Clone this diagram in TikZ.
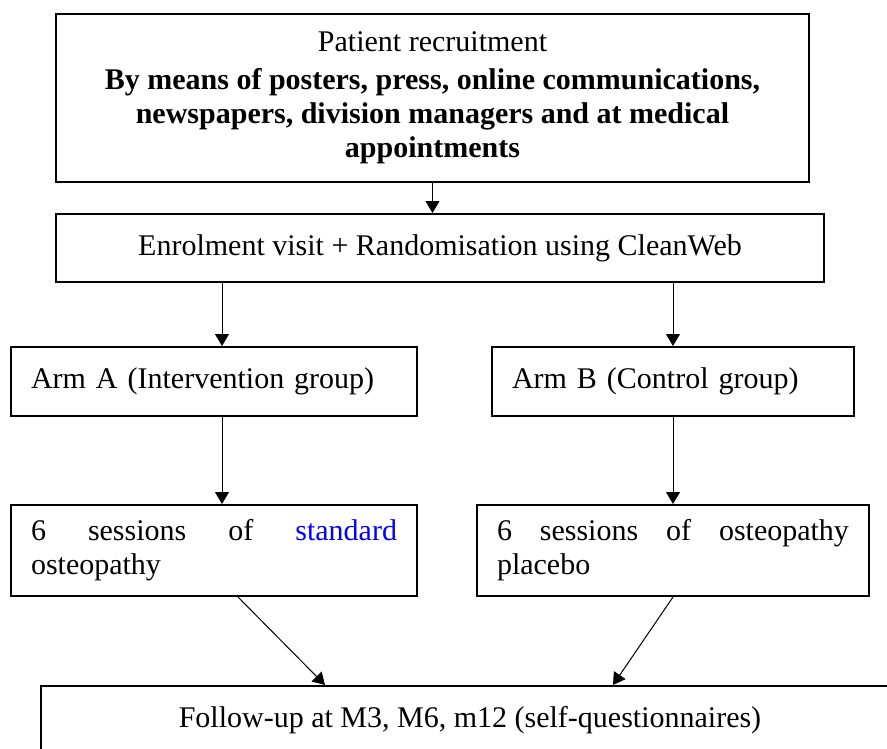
\documentclass[tikz,border=0pt]{standalone}
\usepackage{fontspec}
\setmainfont{Liberation Serif}
\usetikzlibrary{arrows.meta,positioning}
\tikzset{
  box/.style={draw, line width=2pt, inner sep=0pt, font=\fontsize{30}{34}\selectfont},
  flow/.style={->, line width=1pt},
}

\begin{document}
\begin{tikzpicture}[x=1pt, y=-1pt, >={Triangle[length=12pt,width=14pt]}]
        \clip (0,0) rectangle (887,748);
        % Kotak
        \node[box, minimum width=753pt, minimum height=168pt, align=center] (recruit) at (432.5,98)
          {Patient recruitment\\[4pt]
           \textbf{By means of posters, press, online communications,}\\
           \textbf{newspapers, division managers and at medical}\\
           \textbf{appointments}};
        \node[box, minimum width=768pt, minimum height=68pt] (enrol) at (440,248)
          {Enrolment visit + Randomisation using CleanWeb};
        \node[box, text width=366pt, inner xsep=20pt, minimum height=69pt, align=left] (armA) at (214,381.5)
          {Arm A (Intervention group)};
        \node[box, text width=322pt, inner xsep=20pt, minimum height=69pt, align=left] (armB) at (673,381.5)
          {Arm B (Control group)};
        \node[box, text width=366pt, inner xsep=20pt, minimum height=91pt, align=justify] (sessA) at (214,550.5)
          {6 sessions of \textcolor{blue}{standard}\linebreak osteopathy};
        \node[box, text width=352pt, inner xsep=20pt, minimum height=91pt, align=justify] (sessB) at (673,550.5)
          {6 sessions of osteopathy\linebreak placebo};
        \node[box, minimum width=858pt, minimum height=68pt] (follow) at (470,720)
          {Follow-up at M3, M6, m12 (self-questionnaires)};
        % Titik bantu
        \coordinate (colA) at (222,0);
        \coordinate (outA) at (238,0);
        \coordinate (inA) at (325,0);
        \coordinate (inB) at (613,0);
        % Panah
        \draw[flow] (recruit.south) -- (recruit.south |- enrol.north);
        \draw[flow] (enrol.south -| colA) -- (armA.north -| colA);
        \draw[flow] (enrol.south -| armB.north) -- (armB.north);
        \draw[flow] (armA.south -| colA) -- (sessA.north -| colA);
        \draw[flow] (armB.south) -- (sessB.north);
        \draw[flow] (sessA.south -| outA) -- (follow.north -| inA);
        \draw[flow] (sessB.south) -- (follow.north -| inB);
      \end{tikzpicture}
\end{document}
